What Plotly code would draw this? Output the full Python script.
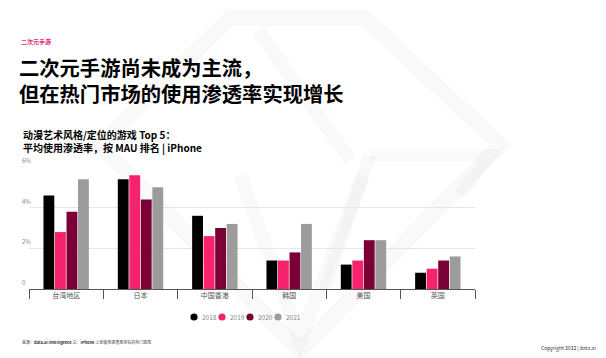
import plotly.graph_objects as go

categories = ["台湾地区", "日本", "中国香港", "韩国", "美国", "英国"]
years = ["2018", "2019", "2020", "2021"]
v2018 = [4.6, 5.4, 3.6, 1.4, 1.2, 0.8]
v2019 = [2.8, 5.6, 2.6, 1.4, 1.4, 1.0]
v2020 = [3.8, 4.4, 3.0, 1.8, 2.4, 1.4]
v2021 = [5.4, 5.0, 3.2, 3.2, 2.4, 1.6]
tick_vals = [0, 2, 4, 6]
tick_text = ["0", "2%", "4%", "6%"]

colors = ["#000000", "#F5226E", "#7A0036", "#9C9C9C"]
series = [v2018, v2019, v2020, v2021]

W, H = 606, 358
L, R, T, B = 29, 131, 167, 69
pw, ph = W - L - R, H - T - B


def px(x):
    return (x - L) / pw


def py(y):
    return (H - B - y) / ph


fig = go.Figure()
for name, vals, c in zip(years, series, colors):
    fig.add_trace(go.Bar(x=categories, y=vals, name=name, showlegend=False,
                         marker=dict(color=c, line=dict(width=0))))

# faint watermark
wm = "rgba(0,0,0,0.025)"
shapes = []


def poly(pts, width, close=False):
    p = "M " + " L ".join(f"{px(a):.4f},{py(b):.4f}" for a, b in pts)
    if close:
        p += " Z"
    shapes.append(dict(type="path", path=p, xref="paper", yref="paper",
                       line=dict(color=wm, width=width), layer="below"))


poly([(230, 18), (365, 18), (500, 145), (300, 350), (100, 145)], 16, close=True)
poly([(240, 175), (300, 340), (363, 175)], 14)
poly([(258, 30), (350, 160)], 14)
poly([(370, 155), (490, 155), (460, 195)], 12)
poly([(370, 155), (325, 290)], 12)

cjk = "Noto Sans CJK SC"
ann = []


def text(x, y, s, size, color="#000000", bold=False, xanchor="left"):
    if bold:
        s = f"<b>{s}</b>"
    ann.append(dict(x=px(x), y=py(y), xref="paper", yref="paper", text=s, showarrow=False,
                    xanchor=xanchor, yanchor="middle", align="left",
                    font=dict(family=cjk, size=size, color=color)))


text(19, 42, "二次元手游", 6, "#E0287A", bold=True)
text(17, 80, "<b>二次元手游尚未成为主流，</b><br><b>但在热门市场的使用渗透率实现增长</b>", 20.3)
text(21, 141, "<b>动漫艺术风格/定位的游戏 Top 5：</b><br><b>平均使用渗透率，按 MAU 排名 | iPhone</b>", 10)
text(20, 342, "来源：<b>data.ai Intelligence</b> 注：<b>iPhone</b> 上按使用渗透率排名的热门游戏", 4, "#333333")
text(598, 348, "Copyright 2022 | data.ai", 5, "#333333", xanchor="right")

# y tick labels above gridlines
for v, t in zip(tick_vals, tick_text):
    ann.append(dict(x=px(20), y=v, xref="paper", yref="y", text=t, showarrow=False,
                    xanchor="left", yanchor="bottom",
                    font=dict(family=cjk, size=6, color="#888888")))

# manual legend
lx0, lstep, ly, r = 194, 28, 317, 3.6
for i, (name, c) in enumerate(zip(years, colors)):
    cx = lx0 + i * lstep
    shapes.append(dict(type="circle", xref="paper", yref="paper",
                       x0=px(cx - r), x1=px(cx + r), y0=py(ly + r), y1=py(ly - r),
                       fillcolor=c, line=dict(width=0)))
    text(cx + 5.5, ly, name, 6.5, "#888888")

fig.update_layout(
    width=W, height=H,
    margin=dict(l=L, r=R, t=T, b=B, autoexpand=False),
    paper_bgcolor="white", plot_bgcolor="rgba(0,0,0,0)",
    barmode="group", bargap=0.38, bargroupgap=0.06,
    font=dict(family=cjk, color="#555555"),
    showlegend=False,
    shapes=shapes,
    annotations=ann,
)
fig.update_xaxes(
    showgrid=False, showline=True, linecolor="#555555", linewidth=1,
    ticks="outside", tickson="boundaries", ticklen=9, tickcolor="#555555", tickwidth=1,
    tickfont=dict(size=7, color="#555555"), mirror=False,
)
fig.update_yaxes(
    range=[0, 6], tickvals=tick_vals, showticklabels=False,
    showgrid=True, gridcolor="#E6E6E6", gridwidth=1, zeroline=False, showline=False, ticks="",
)

fig.write_html("out.html", config={"displayModeBar": False},
               post_script="document.body.style.margin='0';")
